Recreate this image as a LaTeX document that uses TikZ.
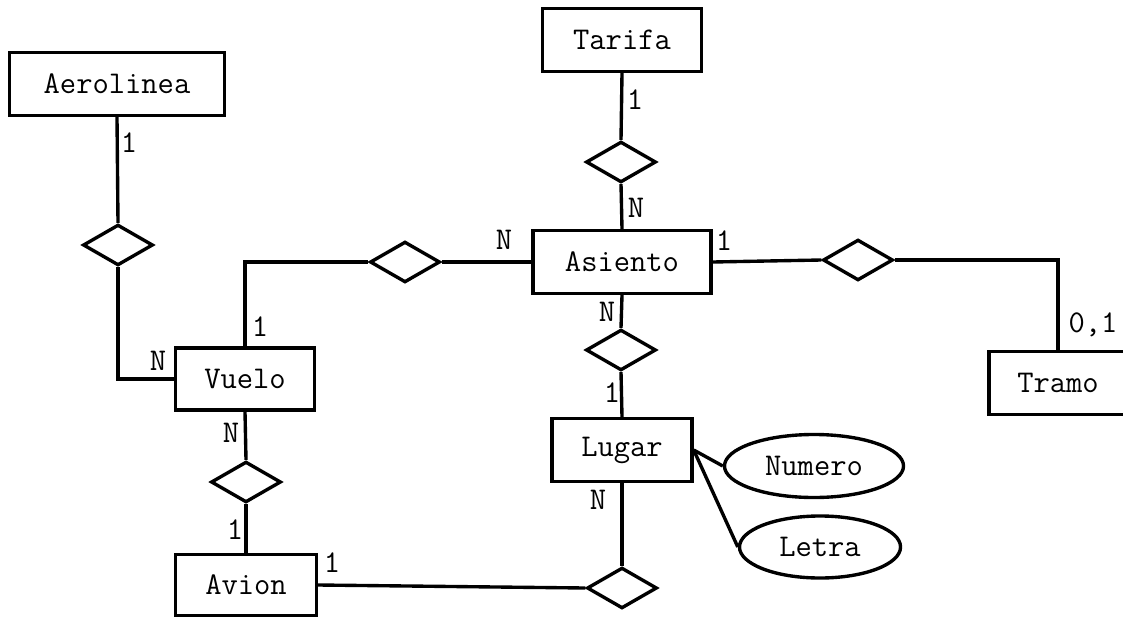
\documentclass[tikz,border=0pt]{standalone}
\usepackage{fontspec}
\usepackage{tikz}
\usetikzlibrary{shapes.geometric, positioning}

\begin{document}
\begin{tikzpicture}[
            x=0.025cm, y=-0.025cm,
            every node/.style={font=\ttfamily\fontsize{22.5}{26}\selectfont},
            entity/.style={rectangle, draw=black, line width=2.4pt, minimum height=1.575cm, inner sep=0pt},
            rel/.style={diamond, draw=black, line width=2.4pt, minimum width=1.75cm, minimum height=1.02cm, inner sep=0pt},
            attr/.style={ellipse, draw=black, line width=2.4pt, inner sep=0pt},
            card/.style={inner sep=0pt},
            link/.style={draw=black, line width=2.4pt}
        ]
            \useasboundingbox (0,0) rectangle (1123,618);

            \node[entity, minimum width=5.375cm] (aerolinea) at (117,84) {Aerolinea};
            \node[entity, minimum width=3.975cm] (tarifa) at (622,40) {Tarifa};
            \node[entity, minimum width=4.45cm] (asiento) at (622,262) {Asiento};
            \node[entity, minimum width=3.475cm, minimum height=1.55cm] (vuelo) at (245,379) {Vuelo};
            \node[entity, minimum width=3.525cm, minimum height=1.525cm] (avion) at (246,585) {Avion};
            \node[entity, minimum width=3.5cm] (lugar) at (622,450) {Lugar};
            \node[entity, minimum width=3.45cm] (tramo) at (1058,383) {Tramo};

            \node[rel] (r-aerolinea) at (118,245) {};
            \node[rel] (r-tarifa) at (621,162) {};
            \node[rel] (r-vuelo) at (405,262) {};
            \node[rel] (r-tramo) at (858,260) {};
            \node[rel] (r-lugar) at (621,350) {};
            \node[rel] (r-avion) at (246,482) {};
            \node[rel] (r-posicion) at (622,588) {};

            \node[attr, minimum width=4.475cm, minimum height=1.575cm] (numero) at (814,466) {Numero};
            \node[attr, minimum width=4.025cm, minimum height=1.55cm] (letra) at (820,547) {Letra};

            \draw[link] (aerolinea.south) -- (r-aerolinea.north);
            \draw[link] (r-aerolinea.south) |- (vuelo.west);
            \draw[link] (vuelo.north) |- (r-vuelo.west);
            \draw[link] (r-vuelo.east) -- (asiento.west);
            \draw[link] (tarifa.south) -- (r-tarifa.north);
            \draw[link] (r-tarifa.south) -- (asiento.north);
            \draw[link] (asiento.east) -- (r-tramo.west);
            \draw[link] (r-tramo.east) -| (tramo.north);
            \draw[link] (asiento.south) -- (r-lugar.north);
            \draw[link] (r-lugar.south) -- (lugar.north);
            \draw[link] (vuelo.south) -- (r-avion.north);
            \draw[link] (r-avion.south) -- (avion.north);
            \draw[link] (lugar.south) -- (r-posicion.north);
            \draw[link] (avion.east) -- (r-posicion.west);
            \draw[link] (lugar.east) -- (numero.west);
            \draw[link] (lugar.east) -- (letra.west);

            \node[card] (c-aerolinea) at (129,143) {1};
            \node[card] (c-tarifa) at (635,100) {1};
            \node[card] (c-asiento-t) at (636,208) {N};
            \node[card] (c-asiento-v) at (504,240) {N};
            \node[card] (c-asiento-r) at (724,241) {1};
            \node[card] (c-vuelo-a) at (260,327) {1};
            \node[card] (c-vuelo-l) at (158,361) {N};
            \node[card] (c-vuelo-b) at (231,433) {N};
            \node[card] (c-avion-t) at (235,530) {1};
            \node[card] (c-avion-r) at (332,563) {1};
            \node[card] (c-asiento-b) at (607,312) {N};
            \node[card] (c-lugar-t) at (612,393) {1};
            \node[card] (c-lugar-b) at (598,500) {N};
            \node[card] (c-tramo) at (1093,325) {0,1};
        \end{tikzpicture}
\end{document}
